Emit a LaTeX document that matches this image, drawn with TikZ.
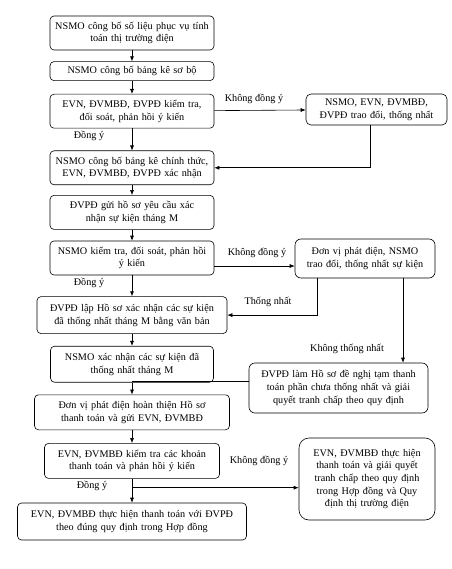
\documentclass[tikz,border=0pt]{standalone}
\usepackage{fontspec}
\setmainfont{Liberation Serif}
\usetikzlibrary{
    arrows.meta,
    positioning,
    calc
}

\begin{document}
\begin{tikzpicture}[
            x=1pt, y=1pt,
            font=\fontsize{10.2}{12.7}\selectfont,
            step_box/.style={rectangle, draw, line width=0.6pt, rounded corners=4pt, text width=160pt, align=center, inner xsep=2pt, inner ysep=2pt, minimum height=34pt},
            side_box/.style={rectangle, draw, line width=0.6pt, rounded corners=6pt, align=center, inner xsep=2pt, inner ysep=2pt},
            main_flow_arrow/.style={-{Latex[length=5pt,width=4pt]}, line width=0.6pt, black},
            join_line/.style={line width=0.6pt, black},
            flow_label/.style={inner sep=1pt}
        ]

        \useasboundingbox (0,0) rectangle (451,-569);

        % main column
        \node[step_box] (publish_data) at (132,-33) {NSMO công bố số liệu phục vụ tính\\toán thị trường điện};
        \node[step_box, below=11pt of publish_data, minimum height=19pt] (draft_list) {NSMO công bố bảng kê sơ bộ};
        \node[step_box, below=13pt of draft_list] (check_list) {EVN, ĐVMBĐ, ĐVPĐ kiểm tra,\\đối soát, phản hồi ý kiến};
        \node[step_box, below=22pt of check_list] (official_list) {NSMO công bố bảng kê chính thức,\\EVN, ĐVMBĐ, ĐVPĐ xác nhận};
        \node[step_box, below=10pt of official_list] (send_request) {ĐVPĐ gửi hồ sơ yêu cầu xác\\nhận sự kiện tháng M};
        \node[step_box, below=11pt of send_request] (nsmo_check) {NSMO kiểm tra, đối soát, phản hồi\\ý kiến};
        \node[step_box, below=21pt of nsmo_check, text width=186pt, minimum height=37pt] (event_file) {ĐVPĐ lập Hồ sơ xác nhận các sự kiện\\đã thống nhất tháng M bằng văn bản};
        \node[step_box, below=12pt of event_file, text width=159pt, minimum height=36pt] (nsmo_confirm) {NSMO xác nhận các sự kiện đã\\thống nhất tháng M};
        \node[step_box, below=12pt of nsmo_confirm, text width=191pt, minimum height=35pt] (payment_file) {Đơn vị phát điện hoàn thiện Hồ sơ\\thanh toán và gửi EVN, ĐVMBĐ};
        \node[step_box, below=13pt of payment_file, text width=171pt, minimum height=35pt] (payment_check) {EVN, ĐVMBĐ kiểm tra các khoản\\thanh toán và phản hồi ý kiến};
        \node[step_box, below=24pt of payment_check, text width=225pt, minimum height=37pt] (payment_done) {EVN, ĐVMBĐ thực hiện thanh toán với ĐVPĐ\\theo đúng quy định trong Hợp đồng};

        % side boxes
        \node[side_box, rounded corners=5pt, text width=137pt, minimum height=31pt] (list_talk) at (376.5,-109.5) {NSMO, EVN, ĐVMBĐ,\\ĐVPĐ trao đổi, thống nhất};
        \node[side_box, text width=136pt, minimum height=39pt] (event_talk) at (365,-258.5) {Đơn vị phát điện, NSMO\\trao đổi, thống nhất sự kiện};
        \node[side_box, text width=175pt, minimum height=50pt] (temp_payment) at (338.5,-388) {ĐVPĐ làm Hồ sơ đề nghị tạm thanh\\toán phần chưa thống nhất và giải\\quyết tranh chấp theo quy định};
        \node[side_box, rounded corners=10pt, text width=132pt, minimum height=82pt] (dispute) at (367,-479) {EVN, ĐVMBĐ thực hiện\\thanh toán và giải quyết\\tranh chấp theo quy định\\trong Hợp đồng và Quy\\định thị trường điện};

        % labels
        \node[flow_label] (no_list) at (254,-99) {Không đồng ý};
        \node[flow_label] (yes_list) at (89,-136) {Đồng ý};
        \node[flow_label] (no_event) at (257,-253) {Không đồng ý};
        \node[flow_label] (yes_event) at (89,-283) {Đồng ý};
        \node[flow_label] (agreed) at (268,-302) {Thống nhất};
        \node[flow_label] (not_agreed) at (347,-349) {Không thống nhất};
        \node[flow_label] (no_payment) at (259,-461) {Không đồng ý};
        \node[flow_label] (yes_payment) at (92,-486) {Đồng ý};

        \coordinate (event_split) at ($(event_talk.south)+(38,0)$);
        \coordinate (payment_fork) at ($(payment_check.south)+(0,-9)$);

        \draw[main_flow_arrow] (publish_data) -- (draft_list);
        \draw[main_flow_arrow] (draft_list) -- (check_list);
        \draw[main_flow_arrow] (check_list) -- (list_talk);
        \draw[main_flow_arrow] (check_list) -- (official_list);
        \draw[main_flow_arrow] ($(list_talk.south)+(-6,0)$) |- (official_list.east);
        \draw[main_flow_arrow] (official_list) -- (send_request);
        \draw[main_flow_arrow] (send_request) -- (nsmo_check);
        \draw[main_flow_arrow] ([yshift=-8pt]nsmo_check.east) -- ([yshift=-8pt]nsmo_check.east -| event_talk.west);
        \draw[main_flow_arrow] (nsmo_check) -- (event_file);
        \draw[main_flow_arrow] ($(event_talk.south)+(-48,0)$) |- (event_file.east);
        \draw[main_flow_arrow] (event_split) -- (event_split |- temp_payment.north);
        \draw[main_flow_arrow] (event_file) -- (nsmo_confirm);
        \draw[main_flow_arrow] (nsmo_confirm) -- (payment_file);
        \draw[join_line] ([yshift=7pt]temp_payment.west) -- ([yshift=7pt]temp_payment.west -| nsmo_confirm.south);
        \draw[main_flow_arrow] (payment_file) -- (payment_check);
        \draw[main_flow_arrow] (payment_check) -- (payment_done);
        \draw[main_flow_arrow] (payment_fork) -- (payment_fork -| dispute.west);

        \end{tikzpicture}
\end{document}
